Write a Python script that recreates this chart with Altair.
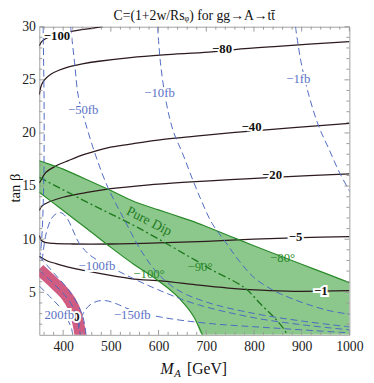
import altair as alt
import pandas as pd

# ---------------- data ----------------
# black contours of C (label: x list, y list)
c_m100_x = [350, 355, 362, 375, 400, 430, 460, 483]
c_m100_y = [28.2, 28.6, 28.85, 29.1, 29.4, 29.65, 29.85, 30.0]
c_m80_x = [350, 353, 357, 363, 375, 391, 410, 440, 475, 541, 610, 705, 760, 850, 1000]
c_m80_y = [23.6, 24.3, 24.75, 25.1, 25.55, 25.9, 26.2, 26.5, 26.75, 27.1, 27.35, 27.6, 27.85, 28.15, 28.6]
c_m40_x = [350, 354, 364, 385, 411, 446, 493, 541, 610, 678, 774, 883, 1000]
c_m40_y = [15.3, 15.6, 16.3, 16.9, 17.4, 18.0, 18.6, 18.95, 19.4, 19.7, 20.1, 20.5, 20.9]
c_m20_x = [350, 355, 370, 400, 450, 500, 575, 650, 750, 850, 1000]
c_m20_y = [12.7, 13.1, 13.5, 13.95, 14.4, 14.75, 15.1, 15.35, 15.6, 15.85, 16.15]
c_m5_x = [350, 354, 362, 380, 420, 500, 600, 700, 800, 900, 1000]
c_m5_y = [10.35, 9.9, 9.7, 9.6, 9.55, 9.55, 9.65, 9.8, 10.0, 10.15, 10.25]
c_m1_x = [350, 365, 385, 405, 440, 473, 541, 610, 678, 746, 815, 883, 1000]
c_m1_y = [8.4, 8.0, 7.7, 7.45, 7.1, 6.8, 6.3, 6.05, 5.7, 5.4, 5.2, 5.1, 5.15]

black_labels = ["−100", "−80", "−40", "−20", "−5", "−1", "0"]
black_label_x = [387, 733, 795, 838, 887, 940, 428]
black_label_y = [29.15, 27.9, 20.6, 16.0, 10.2, 5.14, 2.66]

# blue dashed cross-section contours
b_1fb_x = [887, 899, 916, 936, 957, 979, 1002]
b_1fb_y = [30, 26.6, 23.4, 20.6, 18.5, 16.3, 14.4]
b_10fb_x = [598, 604, 616, 631, 651, 672, 690, 712, 740, 770, 801, 842, 880, 924, 960, 1002]
b_10fb_y = [30, 26.6, 22.9, 20.15, 18.0, 15.55, 13.6, 11.5, 9.75, 7.9, 6.35, 5.15, 4.4, 3.7, 3.25, 2.93]
b_50fb_x = [415.6, 424, 432, 446, 467, 493.5, 528, 561, 596, 637, 699, 801, 900, 1002]
b_50fb_y = [30, 26.6, 23.4, 21.07, 18.03, 14.9, 11.86, 9.1, 6.9, 5.3, 4.1, 3.0, 2.3, 1.74]
b_100fb_x = [356, 364, 374.6, 383, 395, 407, 419.7, 432, 452.5, 473, 504, 541, 596, 678, 801, 900, 1002]
b_100fb_y = [8.0, 10.48, 11.86, 12.32, 12.5, 12.05, 10.94, 9.74, 8.64, 8.0, 7.26, 6.43, 5.3, 3.9, 2.6, 1.95, 1.46]
b_150fb_x = [432, 440, 452.5, 469, 489, 510, 545, 606, 699, 842, 1002]
b_150fb_y = [1.55, 2.84, 3.67, 4.13, 4.22, 3.95, 3.3, 2.66, 2.1, 1.64, 1.18]
b_left_x = [358, 360, 360, 358, 355, 352]
b_left_y = [30, 23, 18, 13, 10, 8.5]
b_band1_x = [350, 380.8, 410, 430, 442, 448]
b_band1_y = [8.36, 6.8, 5.3, 3.9, 2.6, 1.0]
b_band2_x = [350, 372, 395, 410, 418, 420]
b_band2_y = [5.6, 4.6, 3.5, 2.4, 1.5, 1.0]
b_band3_x = [350, 378, 404, 422, 432, 436]
b_band3_y = [7.1, 5.9, 4.7, 3.5, 2.0, 1.0]

blue_labels = ["−1fb", "−10fb", "−50fb", "−100fb", "−150fb", "200fb"]
blue_label_x = [893, 602, 442, 471, 545, 392]
blue_label_y = [25.1, 23.8, 22.2, 7.45, 2.9, 2.84]

# red band (C ~ 0)
red_x = [350, 376.7, 405.4, 421.8, 432, 436, 437]
red_y = [7.17, 6.06, 4.78, 3.58, 2.01, 1.0, 0.6]

# green "pure dip" band
green_x = [350, 375, 400, 425, 450, 500, 550, 600, 650, 675, 692, 750, 800, 850, 900, 950, 1000]
green_top = [17.39, 17.0, 16.6, 16.1, 15.6, 14.58, 13.53, 12.76, 12.01, 11.63, 11.33, 10.28, 9.38, 8.51, 7.64, 6.78, 5.91]
green_bot = [14.43, 13.56, 12.7, 11.84, 10.99, 9.23, 7.57, 6.07, 4.11, 2.6, 1.0, 1.0, 1.0, 1.0, 1.0, 1.0, 1.0]
green_edge_x = [350, 375, 400, 425, 450, 500, 550, 600, 650, 675, 692, 696]
green_edge_y = [14.43, 13.56, 12.7, 11.84, 10.99, 9.23, 7.57, 6.07, 4.11, 2.6, 1.0, 0.6]
dip_x = [350, 452.5, 555, 678, 713, 780.6, 815, 842, 862.6, 869, 872]
dip_y = [15.82, 13.43, 11.13, 8.0, 7.08, 5.42, 3.85, 2.66, 1.55, 1.0, 0.6]

green_labels = ["−100°", "−90°", "−80°"]
green_label_x = [580, 687, 860]
green_label_y = [6.7, 7.35, 8.27]

x_major = [400, 500, 600, 700, 800, 900, 1000]
x_minor = [360, 380, 420, 440, 460, 480, 520, 540, 560, 580, 620, 640, 660, 680,
           720, 740, 760, 780, 820, 840, 860, 880, 920, 940, 960, 980]
y_major = [5, 10, 15, 20, 25, 30]
y_minor = [2, 3, 4, 6, 7, 8, 9, 11, 12, 13, 14, 16, 17, 18, 19, 21, 22, 23, 24,
           26, 27, 28, 29]

# ---------------- helpers ----------------
W, H = 317, 315
SERIF = "'Liberation Serif', 'Times New Roman', serif"
XS = alt.Scale(domain=[350, 1000], nice=False, zero=False)
YS = alt.Scale(domain=[1, 30], nice=False, zero=False)

xaxis = alt.Axis(values=x_major, format="d", title=None, grid=False, ticks=False, domain=False,
                 labelFlush=False, labelOverlap=False,
                 labelFont=SERIF, labelFontSize=14, labelColor="#222", labelPadding=5)
yaxis = alt.Axis(values=y_major, format="d", title=None, grid=False, ticks=False, domain=False,
                 labelFlush=False, labelOverlap=False,
                 labelFont=SERIF, labelFontSize=14, labelColor="#222", labelPadding=4)


def curves(pairs):
    frames = []
    for name, xs, ys in pairs:
        frames.append(pd.DataFrame({"m": xs, "t": ys, "id": name, "o": list(range(len(xs)))}))
    return pd.concat(frames, ignore_index=True)


def X():
    return alt.X("m:Q", scale=XS, axis=xaxis)


def Y():
    return alt.Y("t:Q", scale=YS, axis=yaxis)


black = curves([("m100", c_m100_x, c_m100_y), ("m80", c_m80_x, c_m80_y),
                ("m40", c_m40_x, c_m40_y), ("m20", c_m20_x, c_m20_y),
                ("m5", c_m5_x, c_m5_y), ("m1", c_m1_x, c_m1_y)])
blue = curves([("1", b_1fb_x, b_1fb_y), ("10", b_10fb_x, b_10fb_y),
               ("50", b_50fb_x, b_50fb_y), ("100", b_100fb_x, b_100fb_y),
               ("150", b_150fb_x, b_150fb_y), ("left", b_left_x, b_left_y),
               ("band1", b_band1_x, b_band1_y), ("band2", b_band2_x, b_band2_y),
               ("band3", b_band3_x, b_band3_y)])
red = curves([("red", red_x, red_y)])
gedge = curves([("top", green_x, green_top), ("bot", green_edge_x, green_edge_y)])
dip = curves([("dip", dip_x, dip_y)])
garea = pd.DataFrame({"m": green_x, "t": green_top, "t2": green_bot})

area = alt.Chart(garea).mark_area(color="#2e9a2e", opacity=0.55, interpolate="monotone", clip=True).encode(
    x=X(), y=Y(), y2="t2:Q")

black_lines = alt.Chart(black).mark_line(color="#2d1b1e", strokeWidth=1.3, interpolate="catmull-rom", clip=True).encode(
    x=X(), y=Y(), detail="id:N", order="o:Q")

red_line = alt.Chart(red).mark_line(color="#cc4a74", strokeWidth=12, opacity=0.9, interpolate="catmull-rom", clip=True).encode(
    x=X(), y=Y(), detail="id:N", order="o:Q")

green_lines = alt.Chart(gedge).mark_line(color="#2a8a2a", strokeWidth=1.2, interpolate="monotone", clip=True).encode(
    x=X(), y=Y(), detail="id:N", order="o:Q")

dip_line = alt.Chart(dip).mark_line(color="#1f7a1f", strokeWidth=1.4, strokeDash=[8, 3, 2, 3], interpolate="catmull-rom", clip=True).encode(
    x=X(), y=Y(), detail="id:N", order="o:Q")

blue_lines = alt.Chart(blue).mark_line(color="#4d68c1", strokeWidth=1.0, strokeDash=[7, 4], interpolate="catmull-rom", clip=True).encode(
    x=X(), y=Y(), detail="id:N", order="o:Q")


def labels(names, xs, ys, color, size, weight, halo):
    df = pd.DataFrame({"m": xs, "t": ys, "lab": names})
    layers = []
    if halo:
        layers.append(alt.Chart(df).mark_text(font=SERIF, fontSize=size, fontWeight=weight, stroke=halo,
                                              strokeWidth=4, color=halo).encode(x=X(), y=Y(), text="lab:N"))
    layers.append(alt.Chart(df).mark_text(font=SERIF, fontSize=size, fontWeight=weight, color=color).encode(
        x=X(), y=Y(), text="lab:N"))
    return layers


black_text = labels(black_labels, black_label_x, black_label_y, "#111", 13, "bold", "white")
blue_text = labels(blue_labels, blue_label_x, blue_label_y, "#5a72c6", 13, "normal", "white")
green_text = labels(green_labels, green_label_x, green_label_y, "#2a8a2a", 13, "normal", None)

pure = alt.Chart(pd.DataFrame({"m": [580], "t": [11.68], "lab": ["Pure Dip"]})).mark_text(
    font=SERIF, fontSize=14, color="#1f7a1f", angle=27).encode(x=X(), y=Y(), text="lab:N")

# frame ticks (inward)
one = pd.DataFrame({"a": [0]})
xt_major = pd.DataFrame({"m": x_major})
xt_minor = pd.DataFrame({"m": x_minor})
yt_major = pd.DataFrame({"t": y_major})
yt_minor = pd.DataFrame({"t": y_minor})
TC = "#9a9a9a"
ticks = [
    alt.Chart(xt_major).mark_rule(color=TC).encode(x=X(), y=alt.value(H), y2=alt.value(H - 5)),
    alt.Chart(xt_major).mark_rule(color=TC).encode(x=X(), y=alt.value(0), y2=alt.value(5)),
    alt.Chart(xt_minor).mark_rule(color=TC).encode(x=X(), y=alt.value(H), y2=alt.value(H - 3)),
    alt.Chart(xt_minor).mark_rule(color=TC).encode(x=X(), y=alt.value(0), y2=alt.value(3)),
    alt.Chart(yt_major).mark_rule(color=TC).encode(y=Y(), x=alt.value(0), x2=alt.value(5)),
    alt.Chart(yt_major).mark_rule(color=TC).encode(y=Y(), x=alt.value(W), x2=alt.value(W - 5)),
    alt.Chart(yt_minor).mark_rule(color=TC).encode(y=Y(), x=alt.value(0), x2=alt.value(3)),
    alt.Chart(yt_minor).mark_rule(color=TC).encode(y=Y(), x=alt.value(W), x2=alt.value(W - 3)),
]

title = alt.Chart(one).mark_text(font=SERIF, fontSize=14, color="#111", baseline="alphabetic").encode(
    x=alt.value(W / 2), y=alt.value(-7), text=alt.value("C=(1+2w/Rsᵩ) for gg→A→tt\u0304"))
ytitle = alt.Chart(one).mark_text(font=SERIF, fontSize=15, color="#111", angle=270).encode(
    x=alt.value(-25), y=alt.value(165), text=alt.value("tan β"))
xt_M = alt.Chart(one).mark_text(font=SERIF, fontSize=16, fontStyle="italic", color="#111", align="left",
                                baseline="alphabetic").encode(x=alt.value(124), y=alt.value(355), text=alt.value("M"))
xt_A = alt.Chart(one).mark_text(font=SERIF, fontSize=11, fontStyle="italic", color="#111", align="left",
                                baseline="alphabetic").encode(x=alt.value(138), y=alt.value(358), text=alt.value("A"))
xt_G = alt.Chart(one).mark_text(font=SERIF, fontSize=16, color="#111", align="left",
                                baseline="alphabetic").encode(x=alt.value(151), y=alt.value(355), text=alt.value("[GeV]"))

chart = alt.layer(
    area, black_lines, red_line, green_lines, dip_line, blue_lines,
    *ticks, *black_text, *blue_text, *green_text, pure, title, ytitle, xt_M, xt_A, xt_G
).properties(
    width=W, height=H,
    autosize=alt.AutoSizeParams(type="none"),
    padding={"left": 32, "top": 15, "right": 17, "bottom": 40},
).configure_view(stroke="#a0a0a0", strokeWidth=1
).configure_axis(labelFont=SERIF, labelFontSize=14, labelColor="#222", labelFlush=False)

chart.save("out.html", embed_options={"renderer": "svg", "actions": False})
